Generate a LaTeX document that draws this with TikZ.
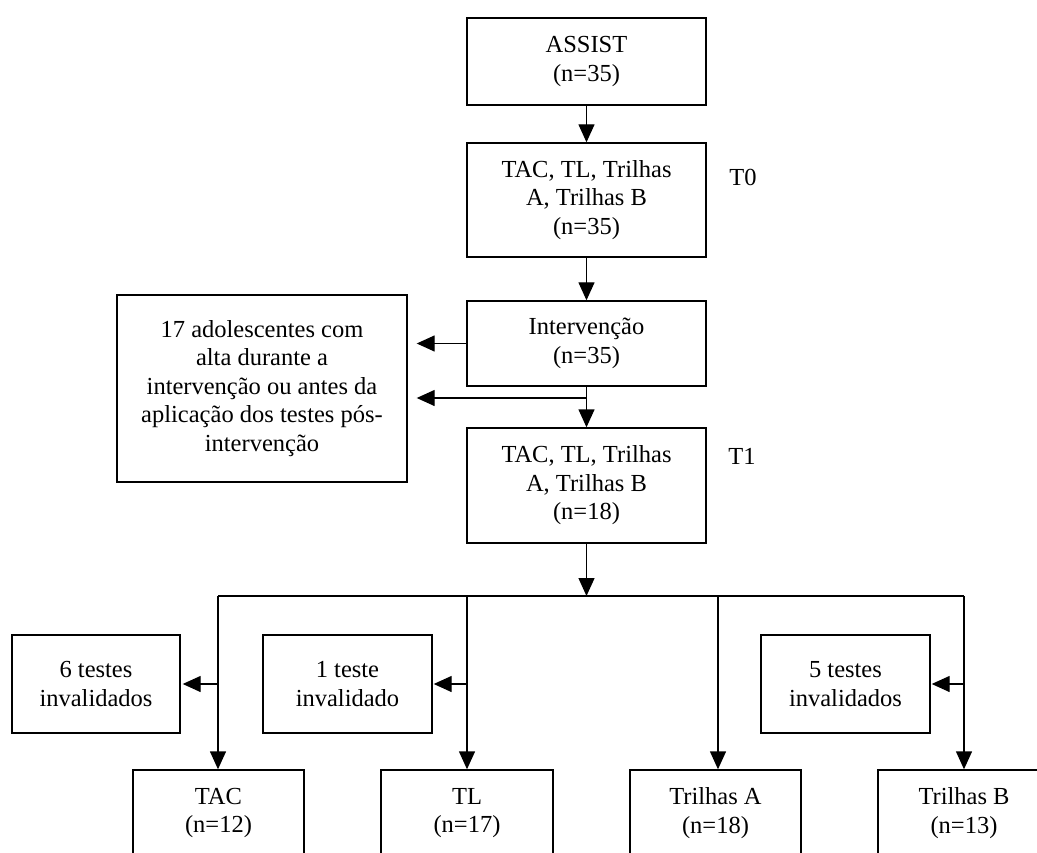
\documentclass[tikz,border=0pt]{standalone}
\usepackage{fontspec}
\setmainfont{Liberation Serif}
\usetikzlibrary{arrows.meta}
\begin{document}
\begin{tikzpicture}[x=1pt,y=-1pt,
  box/.style={draw, line width=1.4pt, inner sep=0pt, align=center, font=\fontsize{24.5}{28.5}\selectfont},
  lbl/.style={inner sep=0pt, font=\fontsize{24.5}{28.5}\selectfont},
  arr/.style={line width=1.4pt, -{Triangle[length=18pt,width=16pt]}},
  ln/.style={line width=1.4pt}]
\useasboundingbox (0,0) rectangle (1037,853);
\clip (0,0) rectangle (1037,853);
% main column
\node[box, minimum width=239pt, minimum height=87pt] (assist) at (586.5,61.5) {ASSIST\\(n=35)};
\node[box, minimum width=239pt, minimum height=114pt] (t0) at (586.5,200) {TAC, TL, Trilhas\\A, Trilhas B\\(n=35)};
\node[lbl] (t0l) at (743,177) {T0};
\node[box, minimum width=239pt, minimum height=85pt] (interv) at (586.5,343.5) {Interven\c{c}\~ao\\(n=35)};
\node[box, minimum width=290pt, minimum height=187pt] (left) at (262,388.5) {17 adolescentes com\\alta durante a\\interven\c{c}\~ao ou antes da\\aplica\c{c}\~ao dos testes p\'os-\\interven\c{c}\~ao};
\node[box, minimum width=239pt, minimum height=115pt] (t1) at (586.5,485.5) {TAC, TL, Trilhas\\A, Trilhas B\\(n=18)};
\node[lbl] (t1l) at (742,456) {T1};
% side boxes
\node[box, minimum width=168pt, minimum height=98pt] (inv6) at (96,684) {6 testes\\invalidados};
\node[box, minimum width=169pt, minimum height=98pt] (inv1) at (347.5,684) {1 teste\\invalidado};
\node[box, minimum width=169pt, minimum height=98pt] (inv5) at (845.5,684) {5 testes\\invalidados};
% bottom boxes
\node[box, minimum width=171pt, minimum height=86pt] (tac) at (218.5,813) {TAC\\(n=12)};
\node[box, minimum width=172pt, minimum height=86pt] (tl) at (467,813) {TL\\(n=17)};
\node[box, minimum width=171pt, minimum height=86pt] (tra) at (715.5,813) {Trilhas A\\(n=18)};
\node[box, minimum width=172pt, minimum height=86pt] (trb) at (964,813) {Trilhas B\\(n=13)};
% connectors
\draw[arr] (assist.south) -- (t0.north);
\draw[arr] (t0.south) -- (interv.north);
\draw[arr] (interv.south) -- (t1.north);
\draw[arr, shorten >=9pt] (interv.west) -- (interv.west -| left.east);
\coordinate (br) at (586.5,398);
\draw[arr, shorten >=9pt] (br) -- (br -| left.east);
\coordinate (b1) at (218,596);
\coordinate (b2) at (467,596);
\coordinate (b3) at (718,596);
\coordinate (b4) at (964,596);
\draw[ln] (b1) -- (b4);
\draw[arr] (t1.south) -- (t1.south |- b1);
\draw[arr] (b1) -- (b1 |- tac.north);
\draw[arr] (b2) -- (b2 |- tl.north);
\draw[arr] (b3) -- (b3 |- tra.north);
\draw[arr] (b4) -- (b4 |- trb.north);
\draw[arr, shorten >=2pt] (b1 |- inv6.east) -- (inv6.east);
\draw[arr, shorten >=1pt] (b2 |- inv1.east) -- (inv1.east);
\draw[arr, shorten >=1pt] (b4 |- inv5.east) -- (inv5.east);
\end{tikzpicture}
\end{document}
